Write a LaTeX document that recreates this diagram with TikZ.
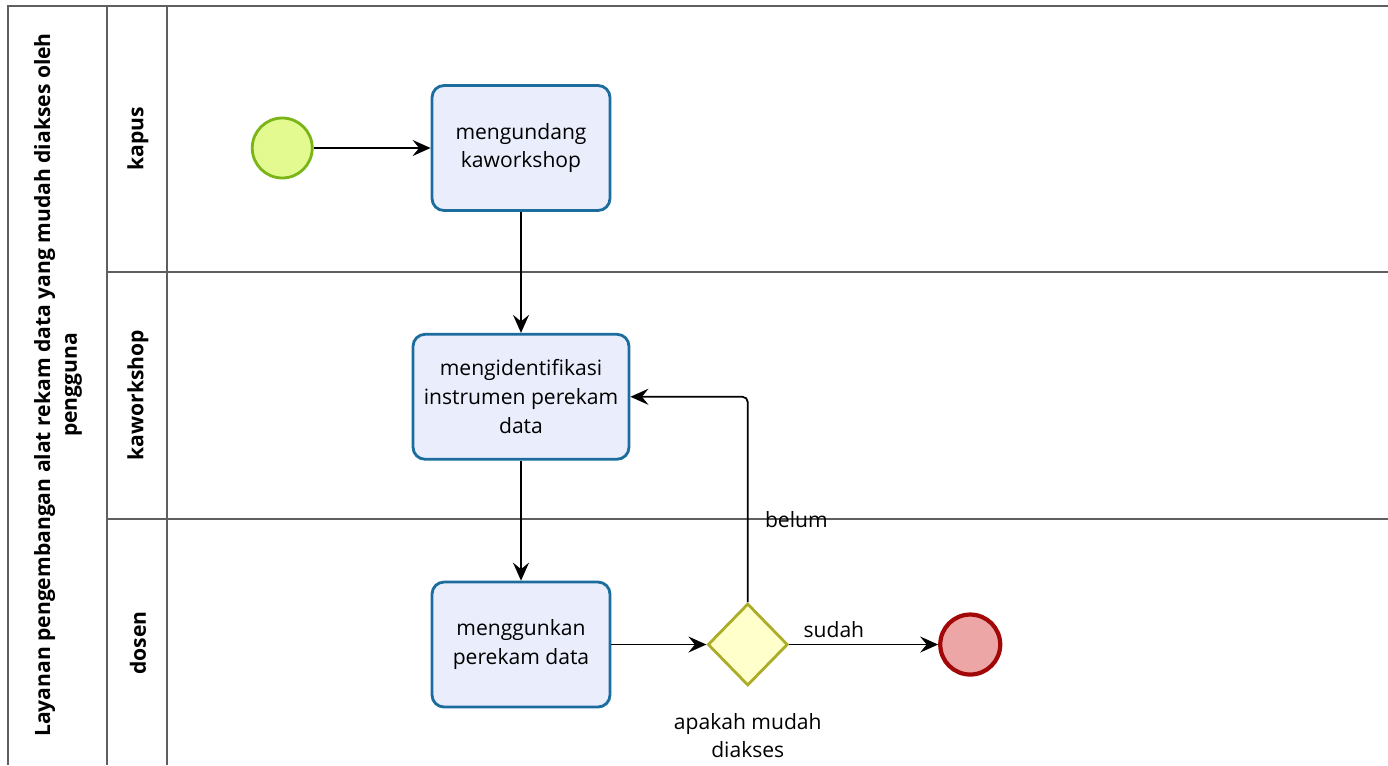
\documentclass[tikz,border=0pt]{standalone}
\usepackage{fontspec}
\setmainfont{Open Sans}
\usepackage{xcolor}
\usetikzlibrary{shapes.geometric, arrows.meta, positioning, calc}
\definecolor{taskblue}{RGB}{28,108,158}
\definecolor{taskfill}{RGB}{234,238,252}
\definecolor{startgreen}{RGB}{122,180,24}
\definecolor{startfill}{RGB}{226,250,144}
\definecolor{endred}{RGB}{162,8,8}
\definecolor{endfill}{RGB}{236,166,166}
\definecolor{gateolive}{RGB}{172,172,40}
\definecolor{gatefill}{RGB}{255,255,204}
\definecolor{laneline}{RGB}{95,95,95}

\begin{document}
\begin{tikzpicture}[
    x=0.02cm, y=-0.02cm,
    font=\fontsize{12}{16.4}\selectfont,
    task/.style={rectangle, rounded corners=0.24cm, minimum width=3.56cm, minimum height=2.5cm, text centered, align=center, draw=taskblue, line width=1.6pt, fill=taskfill},
    startev/.style={circle, minimum size=1.2cm, draw=startgreen, line width=1.6pt, fill=startfill, inner sep=0pt},
    endev/.style={circle, minimum size=1.2cm, draw=endred, line width=2.4pt, fill=endfill, inner sep=0pt},
    gateway/.style={diamond, minimum width=1.6cm, minimum height=1.64cm, draw=gateolive, line width=1.6pt, fill=gatefill, inner sep=0pt},
    lane/.style={draw=laneline, line width=1.2pt},
    lanelabel/.style={rotate=90, font=\fontsize{12}{15.3}\selectfont\bfseries, align=center},
    arrow/.style={line width=1pt, -{Stealth[length=3.6mm, width=3.2mm, inset=1.3mm]}}
]
    \useasboundingbox (0,0) rectangle (1388,765);

    % pool and lanes
    \draw[lane] (1388,6) -- (8,6) -- (8,765);
    \draw[lane] (107,6) -- (107,765);
    \draw[lane] (167,6) -- (167,765);
    \draw[lane] (107,272) -- (1388,272);
    \draw[lane] (107,519) -- (1388,519);

    \node[lanelabel] (pool) at (58,385) {Layanan pengembangan alat rekam data yang mudah diakses oleh\\pengguna};
    \node[lanelabel] (kapus) at (138,139) {kapus};
    \node[lanelabel] (kaworkshop) at (138,395) {kaworkshop};
    \node[lanelabel] (dosen) at (138,643) {dosen};

    % flow
    \node[task] (undang) at (521,148) {mengundang\\kaworkshop};
    \node[startev, left=2.34cm of undang] (start) {};
    \node[task, minimum width=4.32cm, below=2.42cm of undang] (identifikasi) {mengidentifikasi\\instrumen perekam\\data};
    \node[task, below=2.4cm of identifikasi] (gunakan) {menggunkan\\perekam data};
    \node[gateway, right=1.9cm of gunakan] (cek) {};
    \node[below=0.4cm of cek, align=center] (ceklabel) {apakah mudah\\diakses};
    \node[endev, right=2.98cm of cek] (finish) {};

    \draw[arrow] (start) -- (undang);
    \draw[arrow] (undang) -- (identifikasi);
    \draw[arrow] (identifikasi) -- (gunakan);
    \draw[arrow] (gunakan) -- (cek);
    \draw[arrow] (cek) -- node[pos=0.3, above] {sudah} (finish);
    \draw[arrow, rounded corners=3pt] (cek.north) |- node[pos=0.2, right=6pt] {belum} (identifikasi.east);

\end{tikzpicture}
\end{document}
